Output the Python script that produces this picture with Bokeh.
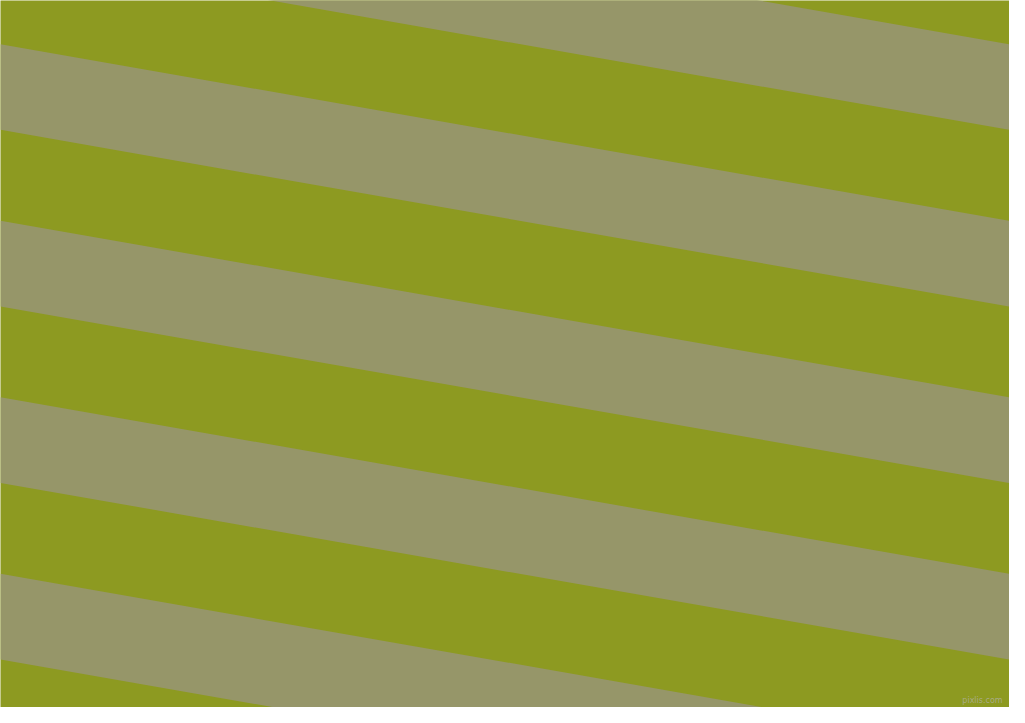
import math
from bokeh.plotting import figure
from bokeh.embed import file_html
from bokeh.resources import INLINE
from bokeh.models import ColumnDataSource
from bokeh.core.properties import value

# Data: stripe tops (y at left edge x=0) and band geometry, in reference pixels
gray_tops = [-136.0, 44.7, 225.2, 405.7, 586.2, 766.7]
band_height = 87.6
angle_deg = 10.0
green = "#8d9a21"
gray = "#969669"
watermark = "pixlis.com"

W, H = 1025, 723
slope = math.tan(math.radians(angle_deg))

xs, ys = [], []
for t in gray_tops:
    xs.append([0, W, W, 0])
    ys.append([t, t + slope * W, t + slope * W + band_height, t + band_height])
src = ColumnDataSource(dict(xs=xs, ys=ys))

p = figure(width=1009, height=707, x_range=(0, W), y_range=(H, 0),
           output_backend="svg", toolbar_location=None, min_border=0,
           background_fill_color=green, border_fill_color=green)
p.axis.visible = False
p.grid.visible = False
p.outline_line_color = None
p.patches("xs", "ys", source=src, fill_color=gray, line_color=None)
p.text(x=[1018], y=[720], text=[watermark], text_font=value("DejaVu Sans"),
       text_font_size="8px", text_color="#b0b0a0", text_align="right",
       text_baseline="bottom", text_alpha=0.8)

open("out.html", "w").write(file_html(p, INLINE))
